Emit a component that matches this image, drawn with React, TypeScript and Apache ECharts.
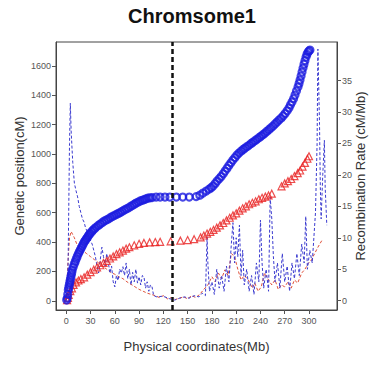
import React, { useEffect, useRef } from "react";
import * as echarts from "echarts";

const physicalTicks = [0, 30, 60, 90, 120, 150, 180, 210, 240, 270, 300];
const geneticTicks = [0, 200, 400, 600, 800, 1000, 1200, 1400, 1600];
const rateTicks = [0, 5, 10, 15, 20, 25, 30, 35];
const centromerePos = 130.5;

// [physical Mb, genetic cM] - blue circles
const blueMap = [
  [0.5, 5], [1.2, 18], [1.8, 45], [2.5, 73], [3.1, 90], [3.7, 107], [4.3, 124], [4.9, 141], [5.5, 158], [6.2, 175],
  [6.8, 192], [7.4, 209], [8.6, 230], [9.9, 250], [11.1, 267], [12.3, 284], [13.5, 301], [14.8, 318], [16, 332], [17.3, 346],
  [18.5, 360], [19.8, 373], [21, 387], [22.2, 400], [23.5, 411], [24.7, 421], [26, 431], [27.2, 441], [28.4, 451], [29.6, 461],
  [31.5, 472], [33.3, 482], [35, 492], [37, 502], [39.5, 513], [42, 523], [44.5, 533], [46.9, 543], [49.4, 550], [51.9, 557],
  [54.3, 566], [56.8, 574], [59.2, 581], [61.7, 588], [64.2, 595], [66.7, 601], [69, 610], [71.6, 618], [74, 625], [76.5, 632],
  [79, 641], [81.5, 649], [84, 658], [86.4, 666], [89, 673], [91.4, 680], [94, 685], [96.3, 690], [98.6, 695], [101, 700],
  [103.5, 702], [106, 703], [111, 707], [116, 707], [122, 707], [128, 707], [136, 707], [144, 707], [152, 707], [160.5, 710],
  [165, 720], [169, 734], [173, 748], [176.5, 761], [179, 771], [181.5, 782], [184, 799], [186.4, 816], [189, 832], [191.4, 847],
  [194, 866], [196.3, 884], [198.7, 903], [201, 922], [203.5, 941], [206, 959], [208.5, 976], [211, 993], [213.5, 1007], [216, 1020],
  [218.5, 1031], [221, 1041], [223.5, 1051], [226, 1061], [228.5, 1072], [231, 1082], [233.5, 1092], [236, 1102], [238.5, 1113], [241, 1123],
  [243.3, 1133], [245.7, 1143], [248, 1155], [250.6, 1167], [253, 1179], [255.6, 1191], [258, 1205], [260.5, 1218], [263, 1232], [265.4, 1245],
  [268, 1260], [270.4, 1276], [273, 1295], [275.3, 1314], [277, 1335], [279, 1355], [281, 1378], [282.7, 1402], [284.5, 1430], [286.4, 1457],
  [287.7, 1481], [288.9, 1505], [290.2, 1532], [291.4, 1559], [292.6, 1586], [293.8, 1613], [295, 1637], [296.3, 1661], [297.5, 1680], [298.8, 1695],
  [300, 1703], [301.2, 1709],
];

// [physical Mb, genetic cM] - red triangles
const redMap = [
  [1, 5], [2, 20], [3, 40], [5, 65], [7, 85], [9, 108], [12, 125], [15, 138], [18, 148], [22, 160],
  [26, 178], [30, 195], [34, 212], [38, 228], [42, 242], [46, 258], [50, 272], [54, 288], [58, 302], [62, 318],
  [66, 330], [70, 342], [74, 355], [78, 365], [84, 378], [90, 388], [96, 394], [103, 398], [110, 400], [116, 402],
  [129, 405], [141, 410], [150, 414], [158, 420], [166, 432], [170, 445], [174, 458], [178, 470], [182, 483], [186, 498],
  [190, 514], [194, 530], [198, 548], [202, 566], [206, 582], [210, 596], [214, 614], [218, 630], [222, 644], [226, 658],
  [230, 668], [234, 678], [238, 692], [242, 702], [246, 710], [250, 718], [254, 730], [266, 780], [270, 800], [274, 815],
  [278, 830], [282, 850], [286, 870], [289, 888], [292, 915], [295, 940], [298, 968], [300, 985],
];

const blueRatePos = [0, 2, 3, 4, 5, 6, 8, 10, 12, 14, 16, 18, 20, 22, 24, 26, 28, 30, 32, 34, 36, 38, 40, 42, 44, 46, 48, 50, 52, 54, 56, 58, 60, 62, 64, 66, 68, 70, 72, 74, 76, 78, 80, 82, 84, 86, 88, 90, 92, 94, 96, 98, 100, 102, 104, 106, 108, 112, 118, 122, 128, 134, 140, 146, 152, 158, 164, 168, 172, 174, 175, 177, 180, 183, 186, 189, 192, 195, 198, 201, 204, 206, 208, 210, 212, 214, 216, 218, 220, 223, 226, 229, 232, 235, 238, 240, 242, 244, 247, 250, 252, 254, 256, 258, 261, 264, 267, 270, 273, 276, 279, 282, 285, 288, 291, 294, 296, 298, 301, 304, 306, 308, 310, 311, 313, 314, 315, 317, 319, 320, 322];
const blueRate = [0, 3, 14, 25, 31.4, 27, 22, 18.7, 17.5, 16.5, 15, 14, 13, 12.5, 11.5, 11, 10, 9.5, 9, 8, 7, 5.5, 4.4, 6.5, 8.5, 7, 5.5, 7.5, 6, 4.4, 5.5, 3, 2.2, 4, 3.2, 5, 4.4, 5.4, 4, 6, 3.5, 5, 2.5, 4.5, 3, 5, 2.8, 3.8, 2.5, 4, 3.8, 2, 3, 1.5, 2.5, 2.2, 0.8, 0.6, 0.7, 0.6, 0.3, 0.1, 0.4, 0.6, 0.4, 0.8, 0.6, 1.2, 0.8, 10.2, 6, 1.5, 3, 1, 5, 2, 4, 1.5, 5.5, 3, 9, 12.4, 6, 10, 7, 12, 4, 8, 2.5, 5, 1.5, 4, 1, 6, 3, 12.8, 6, 2, 5, 1.5, 16.5, 13, 7, 3, 6, 2, 7.5, 3, 5.5, 1.5, 6, 3.5, 7.5, 4, 9, 6, 13.4, 5, 8, 6, 10, 14, 25, 40, 28, 18, 13, 20, 25.5, 18, 12];

const redRatePos = [0, 2, 4, 6, 8, 10, 13, 16, 20, 25, 30, 35, 40, 45, 50, 55, 60, 65, 70, 75, 80, 85, 90, 95, 100, 105, 110, 115, 120, 125, 130, 135, 140, 145, 150, 155, 160, 165, 170, 175, 180, 184, 188, 192, 196, 200, 204, 208, 212, 216, 220, 225, 230, 233, 237, 241, 245, 250, 254, 258, 262, 266, 270, 274, 278, 282, 286, 291, 295, 299, 303, 307, 311, 316];
const redRate = [0, 6, 10, 11, 10.5, 10, 9, 8.5, 8, 7.5, 7, 6.5, 6, 5.5, 5, 4.5, 4.2, 3.8, 3.5, 3, 2.6, 2.2, 1.8, 1.5, 1.2, 1, 0.8, 0.5, 0.8, 0.3, 0.5, 0.2, 0.4, 0.6, 0.3, 0.8, 0.5, 1, 1.8, 2.5, 3.8, 3, 4.4, 3.5, 4.9, 4, 7.5, 7, 5, 3.3, 4, 3.3, 2, 2.8, 1.5, 2.2, 4.4, 3.3, 2.5, 3.3, 1.8, 2.5, 2.2, 3, 2, 3.3, 2.8, 4.4, 5, 5.9, 6.5, 7.5, 8.5, 9.6];

const zip = (xs: number[], ys: number[]) => xs.map((x, i) => [x, ys[i]]);

const FONT = "Liberation Sans, Arial, sans-serif";

export default function App() {
  const ref = useRef<HTMLDivElement>(null);
  useEffect(() => {
    document.body.style.margin = "0";
    const chart = echarts.init(ref.current!, null, { renderer: "svg" });
    const tickLabel = { color: "#555", fontSize: 9, fontFamily: FONT, formatter: (v: number) => String(v) };
    const axisLine = { show: true, onZero: false, lineStyle: { color: "#444" } };
    chart.setOption({
      animation: false,
      backgroundColor: "#fff",
      graphic: [
        {
          type: "text",
          left: "center",
          top: 6,
          style: { text: "Chromsome1", fontSize: 20, fontWeight: "bold", fontFamily: FONT, fill: "#111" },
        },
      ],
      grid: { left: 56, right: 47, top: 42, bottom: 57, show: true, borderColor: "#444", borderWidth: 1, backgroundColor: "#fff" },
      xAxis: {
        type: "value",
        min: -12.7,
        max: 334.6,
        name: "Physical coordinates(Mb)",
        nameLocation: "middle",
        nameGap: 30,
        nameMoveOverlap: false,
        nameTextStyle: { fontSize: 13, color: "#333", fontFamily: FONT },
        axisLine,
        axisTick: { show: true, length: 4, customValues: physicalTicks, lineStyle: { color: "#555" } },
        axisLabel: { customValues: physicalTicks, margin: 6, ...tickLabel },
        splitLine: { show: false },
      },
      yAxis: [
        {
          type: "value",
          min: -63,
          max: 1764,
          name: "Genetic position(cM)",
          nameLocation: "middle",
          nameRotate: 90,
          nameGap: 30,
          nameMoveOverlap: false,
          nameTextStyle: { fontSize: 13, color: "#333", fontFamily: FONT },
          axisLine,
          axisTick: { show: true, length: 4, customValues: geneticTicks, lineStyle: { color: "#555" } },
          axisLabel: { customValues: geneticTicks, margin: 5, ...tickLabel },
          splitLine: { show: false },
        },
        {
          type: "value",
          position: "right",
          min: -1.48,
          max: 41.13,
          name: "Recombination Rate (cM/Mb)",
          nameLocation: "middle",
          nameRotate: 90,
          nameGap: 17,
          nameMoveOverlap: false,
          nameTextStyle: { fontSize: 13, color: "#333", fontFamily: FONT },
          axisLine,
          axisTick: { show: true, length: 4, customValues: rateTicks, lineStyle: { color: "#555" } },
          axisLabel: { customValues: rateTicks, margin: 5, ...tickLabel },
          splitLine: { show: false },
        },
      ],
      series: [
        {
          type: "line",
          yAxisIndex: 1,
          data: zip(redRatePos, redRate),
          showSymbol: false,
          lineStyle: { color: "#e0503a", width: 1, type: [3, 2] },
          z: 1,
        },
        {
          type: "line",
          yAxisIndex: 1,
          data: zip(blueRatePos, blueRate),
          showSymbol: false,
          lineStyle: { color: "#3b3bd0", width: 1, type: [3, 2] },
          z: 2,
          markLine: {
            silent: true,
            symbol: "none",
            label: { show: false },
            lineStyle: { color: "#111", width: 2.5, type: [5, 3] },
            data: [{ xAxis: centromerePos }],
          },
        },
        {
          type: "scatter",
          yAxisIndex: 0,
          data: redMap,
          symbol: "triangle",
          symbolSize: 7,
          itemStyle: { color: "rgba(255,255,255,0)", borderColor: "#e82020", borderWidth: 1.2 },
          z: 3,
        },
        {
          type: "scatter",
          yAxisIndex: 0,
          data: blueMap,
          symbol: "circle",
          symbolSize: 7,
          itemStyle: { color: "rgba(255,255,255,0)", borderColor: "#1c1ce0", borderWidth: 2.2 },
          z: 4,
        },
      ],
    });
    return () => chart.dispose();
  }, []);
  return <div ref={ref} style={{ position: "fixed", left: 0, top: 0, width: 384, height: 367, background: "#fff" }} />;
}
